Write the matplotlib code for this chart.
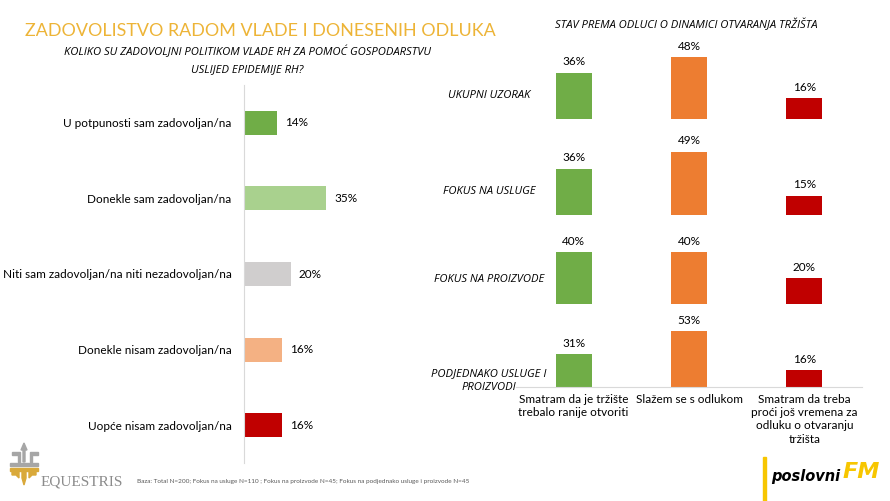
import matplotlib.pyplot as plt
from matplotlib.patches import Rectangle, Polygon

plt.rcParams['font.family'] = ['Lato', 'DejaVu Sans']
ITAL = ['Open Sans', 'DejaVu Sans']

# left chart data
left_labels = ["U potpunosti sam zadovoljan/na", "Donekle sam zadovoljan/na",
               "Niti sam zadovoljan/na niti nezadovoljan/na",
               "Donekle nisam zadovoljan/na", "Uopće nisam zadovoljan/na"]
left_values = [0.14, 0.35, 0.20, 0.16, 0.16]
left_colors = ["#70AD47", "#A9D18E", "#D0CECE", "#F4B183", "#C00000"]

# right chart data
groups = ["UKUPNI UZORAK", "FOKUS NA USLUGE", "FOKUS NA PROIZVODE",
          "PODJEDNAKO USLUGE I\nPROIZVODI"]
answers = ["Smatram da je tržište\ntrebalo ranije otvoriti", "Slažem se s odlukom",
           "Smatram da treba\nproći još vremena za\nodluku o otvaranju\ntržišta"]
ukupno = [0.36, 0.48, 0.16]
usluge = [0.36, 0.49, 0.15]
proizvode = [0.40, 0.40, 0.20]
podjednako = [0.31, 0.53, 0.16]
right_values = [ukupno, usluge, proizvode, podjednako]
right_colors = ["#70AD47", "#ED7D31", "#C00000"]

W, H = 890, 501
fig = plt.figure(figsize=(W / 100, H / 100), dpi=100)


def px_axes(x0, y0, x1, y1):
    # pixel box (top-left origin) -> figure axes
    return fig.add_axes([x0 / W, 1 - y1 / H, (x1 - x0) / W, (y1 - y0) / H])


# titles
fig.text(25 / W, 1 - 31 / H, "ZADOVOLISTVO RADOM VLADE I DONESENIH ODLUKA",
         color="#EDB437", fontsize=12.9, va="center", ha="left")
fig.text(247 / W, 1 - 52 / H, "KOLIKO SU ZADOVOLJNI POLITIKOM VLADE RH ZA POMOĆ GOSPODARSTVU",
         fontsize=8.1, style="italic", family=ITAL, ha="center", va="center")
fig.text(247 / W, 1 - 70 / H, "USLIJED EPIDEMIJE RH?",
         fontsize=8.1, style="italic", family=ITAL, ha="center", va="center")
fig.text(686 / W, 1 - 25 / H, "STAV PREMA ODLUCI O DINAMICI OTVARANJA TRŽIŠTA",
         fontsize=8.1, style="italic", family=ITAL, ha="center", va="center")

# left horizontal bars
ax = px_axes(244, 85, 385, 463)
ypos = range(len(left_values))
ax.barh(ypos, left_values, height=0.32, color=left_colors)
ax.set_ylim(4.5, -0.5)
ax.set_xlim(0, 0.6)
for i, v in enumerate(left_values):
    ax.text(v + 0.034, i, f"{v:.0%}", va="center", ha="left", fontsize=8.5)
ax.set_yticks(list(ypos))
ax.set_yticklabels(left_labels, fontsize=8.5)
ax.tick_params(axis="y", length=0, pad=9)
ax.set_xticks([])
for s in ["top", "right", "bottom"]:
    ax.spines[s].set_visible(False)
ax.spines["left"].set_color("#D9D9D9")
ax.patch.set_visible(False)

# right small multiples
rows = [(119, 1.29), (215, 1.29), (304, 1.29), (387, 1.05)]
xs = range(len(answers))
for r, (base, scale) in enumerate(rows):
    top = base - 60 * scale
    axr = px_axes(516, top, 862, base)
    vals = right_values[r]
    axr.bar(xs, vals, width=0.31, color=right_colors)
    axr.set_xlim(-0.5, 2.5)
    axr.set_ylim(0, 0.6)
    for i, v in enumerate(vals):
        axr.annotate(f"{v:.0%}", (i, v), xytext=(0, 4), textcoords="offset points",
                     ha="center", va="bottom", fontsize=8.5, annotation_clip=False)
    axr.set_yticks([])
    for s in ["top", "right", "left"]:
        axr.spines[s].set_visible(False)
    if r == len(rows) - 1:
        axr.spines["bottom"].set_color("#D9D9D9")
        axr.set_xticks(list(xs))
        axr.set_xticklabels(answers, fontsize=8.5, linespacing=1.25, va="top")
        axr.tick_params(axis="x", length=0, pad=5)
    else:
        axr.spines["bottom"].set_visible(False)
        axr.set_xticks([])
    axr.patch.set_visible(False)
    ly = base - 24 if r < 3 else base - 6
    fig.text(489 / W, 1 - ly / H, groups[r], fontsize=8.1, style="italic", family=ITAL,
             ha="center", va="center", linespacing=1.35)

# footer
fig.text(137 / W, 1 - 481 / H,
         "Baza: Total N=200; Fokus na usluge N=110 ; Fokus na proizvode N=45; "
         "Fokus na podjednako usluge i proizvode N=45",
         fontsize=4.6, color="#595959", va="center")

# Equestris logo
fig.text(41 / W, 1 - 482 / H, "EQUESTRIS", family="Liberation Serif",
         fontsize=11, color="#8C8C8C", va="center")
gold = "#D9A93A"
grey = "#A6A6A6"
shapes = [
    ([(24, 443), (27, 450), (25, 450), (25, 462), (23, 462), (23, 450), (21, 450)], grey),
    ([(12, 452), (20, 452), (20, 462), (18, 462), (18, 455), (12, 455)], grey),
    ([(30, 452), (38, 452), (38, 455), (32, 455), (32, 462), (30, 462)], grey),
    ([(10, 463), (38, 463), (38, 466), (10, 466)], grey),
    ([(10, 468), (38, 468), (38, 471), (10, 471)], gold),
    ([(22, 471), (26, 471), (26, 478), (24, 485), (22, 478)], gold),
    ([(12, 471), (19, 471), (19, 478), (16, 475), (12, 475)], gold),
    ([(29, 471), (36, 471), (36, 475), (32, 475), (29, 478)], gold),
]
for pts, c in shapes:
    fig.patches.append(Polygon([(x / W, 1 - y / H) for x, y in pts], closed=True,
                               transform=fig.transFigure, color=c))

# poslovniFM logo
fig.patches.append(Rectangle((763 / W, 0), 3 / W, 44 / H, transform=fig.transFigure,
                             color="#F7C600"))
fig.text(771 / W, 1 - 477 / H, "poslovni", fontsize=10.5, weight="bold", style="italic",
         family=["DejaVu Sans"], color="black", va="center")
fig.text(843 / W, 1 - 472 / H, "FM", fontsize=16, weight="bold", style="italic",
         family=["DejaVu Sans"], color="#F7C600", va="center")

fig.savefig("out.png", dpi=100)
